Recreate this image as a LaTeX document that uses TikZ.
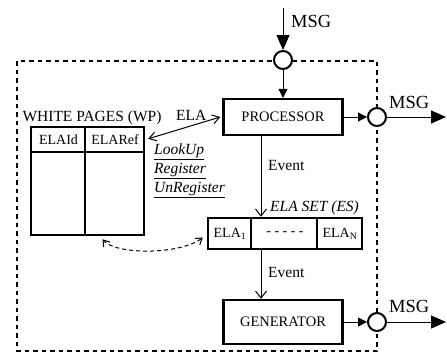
\documentclass[tikz,border=0pt]{standalone}
\usepackage{fontspec}
\setmainfont{Liberation Serif}
\usetikzlibrary{arrows.meta,calc}
\begin{document}
\begin{tikzpicture}[x=1pt,y=-1pt,
  box/.style={draw, line width=2.4pt, inner sep=0pt, font=\fontsize{14.5}{16}\selectfont},
  port/.style={circle, draw, line width=2pt, fill=white, minimum size=18pt, inner sep=0pt},
  lbl/.style={font=\fontsize{15.5}{18}\selectfont, inner sep=0pt, anchor=base west},
  cell/.style={font=\fontsize{14}{16}\selectfont, inner sep=0pt},
  msg/.style={font=\fontsize{18.5}{20}\selectfont, inner sep=0pt, anchor=base west},
  flow/.style={line width=1pt},
  bigtip/.style={-{Triangle[length=15pt,width=13pt]}},
  smalltip/.style={-{Triangle[length=9pt,width=9pt]}},
  vtip/.style={-{Straight Barb[length=7pt,width=11pt]}},
  frame/.style={line width=2.5pt, dash pattern=on 4.5pt off 4pt}
]
\useasboundingbox (0,0) rectangle (447,354);
\coordinate (fTL) at (17,61);
\coordinate (fBR) at (377,351);
\draw[frame] (fTL) rectangle (fBR);

% boxes
\node[box, minimum width=119pt, minimum height=36pt] (proc) at (283,117) {PROCESSOR};
\node[box, minimum width=119pt, minimum height=44pt] (gen) at (283,322) {GENERATOR};
\node[box, minimum width=154pt, minimum height=31pt] (es) at (285,233.5) {};
\path (es.north west) ++(44,0) coordinate (d1t);
\path (es.north west) ++(110,0) coordinate (d2t);
\draw[line width=1.5pt] (d1t) -- (d1t |- es.south);
\draw[line width=1.5pt] (d2t) -- (d2t |- es.south);
\node[cell] (e1) at (230,233.5) {ELA\textsubscript{1}};
\node[cell] (edots) at (285,233.5) {- - - - -};
\node[cell] (en) at (340,233.5) {ELA\textsubscript{N}};

% white pages table
\node[draw, line width=2.4pt, minimum width=113pt, minimum height=108pt, inner sep=0pt] (wp) at (87.5,181) {};
\path (wp.north west) ++(55,0) coordinate (wpd);
\path (wp.north west) ++(0,26) coordinate (wph);
\draw[line width=1.5pt] (wpd) -- (wpd |- wp.south);
\draw[line width=1.5pt] (wph) -- (wph -| wp.east);
\node[cell] (hid) at (58.5,140) {ELAId};
\node[cell] (href) at (115,140) {ELARef};
\node[lbl, anchor=base] (wpt) at (92,121) {WHITE PAGES (WP)};

% ports
\node[port] (cin) at (283,60) {};
\node[port] (cout1) at (377,117) {};
\node[port] (cout2) at (377,322) {};
\coordinate (inTop) at (283,8);
\coordinate (out1) at (446,117);
\coordinate (out2) at (446,322);
\coordinate (evx) at (261,0);

% connectors
\draw[flow, bigtip] (inTop) -- (cin.north);
\draw[flow, smalltip] (cin.south) -- (proc.north);
\draw[flow, smalltip] (proc.east) -- (cout1.west);
\draw[flow, bigtip] (cout1.east) -- (out1);
\draw[flow, vtip] (proc.south -| evx) -- (es.north -| evx);
\draw[flow, vtip] (es.south -| evx) -- (gen.north -| evx);
\draw[flow, smalltip] (gen.east) -- (cout2.west);
\draw[flow, bigtip] (cout2.east) -- (out2);
\draw[flow, {Straight Barb[length=7pt,width=9pt]}-{Straight Barb[length=7pt,width=9pt]}]
  ($(wp.north east)+(3,13)$) -- ($(proc.west)+(-2,0)$);
\draw[flow, dash pattern=on 4pt off 3pt, {Straight Barb[length=6pt,width=8pt]}-{Straight Barb[length=6pt,width=8pt]}]
  ($(wp.south)+(15,3)$) .. controls (115,255) and (180,255) .. ($(es.west)+(-4,4)$);

% labels
\node[msg] (m1) at (291,27) {MSG};
\node[msg] (m2) at (389,108) {MSG};
\node[msg] (m3) at (389,312) {MSG};
\node[lbl] (elal) at (176,120) {ELA};
\node[lbl] (lu) at (154,154) {\underline{\textit{LookUp}}};
\node[lbl] (rg) at (154,173) {\underline{\textit{Register}}};
\node[lbl] (urg) at (154,192) {\underline{\textit{UnRegister}}};
\node[lbl] (ev1) at (268,170) {Event};
\node[lbl] (ev2) at (268,277) {Event};
\node[lbl] (est) at (270,211) {\textit{ELA SET (ES)}};
\end{tikzpicture}
\end{document}
